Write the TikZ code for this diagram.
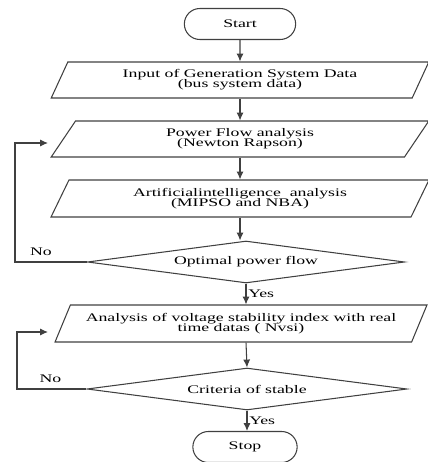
\documentclass[tikz,border=0pt]{standalone}
\usepackage{fontspec}
\newfontfamily\flowfont{Liberation Serif}[FakeStretch=1.53]
\usetikzlibrary{arrows.meta,shapes.geometric,shapes.misc}
\setlength{\lineskiplimit}{-3pt}

\begin{document}
\begin{tikzpicture}[x=0.02cm,y=-0.02cm,>={Latex[length=4.5pt,width=4pt]},
  every node/.style={font=\flowfont\fontsize{6.6}{5.8}\selectfont},
  line/.style={draw=black!75,line width=0.6pt},
  term/.style={line,rounded rectangle,minimum width=123*0.02cm,minimum height=31*0.02cm},
  io/.style={line,trapezium,trapezium left angle=70,trapezium right angle=110,
    trapezium stretches=true,minimum width=378*0.02cm,minimum height=36*0.02cm,align=center},
  test/.style={line,diamond,aspect=7.5,inner sep=0pt,minimum width=317*0.02cm,minimum height=42*0.02cm}]
  \useasboundingbox (0,0) rectangle (428,462);
  % main column
  \node[term] (start) at (240,24) {Start};
  \node[io] (input) at (240,80) {Input of Generation System Data\\(bus system data)};
  \node[io] (pflow) at (240,139) {Power Flow analysis\\(Newton Rapson)};
  \node[io,minimum height=37*0.02cm] (ai) at (240,198.5) {Artificialintelligence\ \ analysis\\(MIPSO and NBA)};
  \node[test] (opf) at (246,262) {Optimal power flow};
  \node[io,trapezium left angle=66,trapezium right angle=114,minimum width=373*0.02cm,
    minimum height=37*0.02cm] (vsi) at (241,323.5) {Analysis of voltage stability index with real\\time datas ( Nvsi)};
  \node[test,minimum width=320*0.02cm] (stable) at (247,389) {Criteria of stable};
  \node[term,minimum width=116*0.02cm] (stop) at (245,447) {Stop};
  % loop back points
  \coordinate (back1) at (15,143);
  \coordinate (pfin) at (48,143);
  \coordinate (back2) at (17,332);
  \coordinate (vsin) at (48,332);

  \draw[line,->] (start) -- (start |- input.north);
  \draw[line,->] (input.south) -- (input.south |- pflow.north);
  \draw[line,->] (pflow.south) -- (pflow.south |- ai.north);
  \draw[line,->] (ai.south) -- (ai.south |- opf.north);
  \draw[line,->] (opf.south) -- (opf.south |- vsi.north) node[midway,right,inner sep=1pt] {Yes};
  \draw[line,->] (vsi.south -| opf.south) -- (stable.north);
  \draw[line,->] (stable.south) -- (stable.south |- stop.north) node[midway,right,inner sep=1pt] {Yes};
  \draw[line,->] (opf.west) -- (opf.west -| back1) node[pos=0.64,above] {No} -- (back1) -- (pfin);
  \draw[line,->] (stable.west) -- (stable.west -| back2) node[pos=0.52,above] {No} -- (back2) -- (vsin);
\end{tikzpicture}
\end{document}
